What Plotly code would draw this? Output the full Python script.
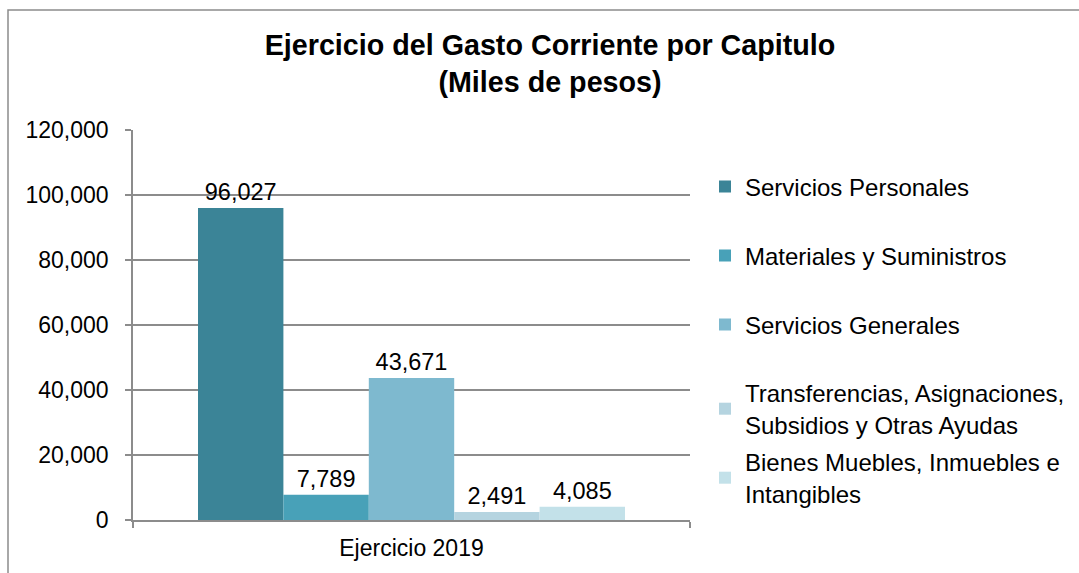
import plotly.graph_objects as go

category = ["Ejercicio 2019"]
series_names = [
    "Servicios Personales",
    "Materiales y Suministros",
    "Servicios Generales",
    "Transferencias, Asignaciones,<br>Subsidios y Otras Ayudas",
    "Bienes Muebles, Inmuebles e<br>Intangibles",
]
series_values = [96027, 7789, 43671, 2491, 4085]
colors = ["#3B8497", "#48A1B8", "#7EB9CF", "#B5D4E0", "#C3E1E9"]
legend_ids = ["legend", "legend2", "legend3", "legend4", "legend5"]
legend_center_px = [187, 256, 325, 409, 478]

W, H = 1079, 573
FONT = "Liberation Sans, Arial, sans-serif"
GRID = "#8C8C8C"

fig = go.Figure()
for name, val, col, lid in zip(series_names, series_values, colors, legend_ids):
    fig.add_trace(go.Bar(
        x=category, y=[val], name=name, marker=dict(color=col, line=dict(width=0)),
        text=[f"{val:,}"], textposition="outside", cliponaxis=False,
        textfont=dict(size=23.5, color="#000000", family=FONT),
        legend=lid,
    ))

layout_legends = {}
for lid, py in zip(legend_ids, legend_center_px):
    layout_legends[lid] = dict(
        xref="container", yref="container",
        x=705 / W, y=1 - py / H, xanchor="left", yanchor="middle",
        font=dict(size=24, color="#000000", family=FONT),
        bgcolor="rgba(0,0,0,0)", borderwidth=0,
    )

fig.update_layout(
    width=W, height=H,
    margin=dict(l=133, r=389, t=130, b=53, autoexpand=False),
    paper_bgcolor="white", plot_bgcolor="white",
    font=dict(family=FONT, size=23, color="#000000"),
    title=dict(
        text="<b>Ejercicio del Gasto Corriente por Capitulo<br>(Miles de pesos)</b>",
        x=550 / W, xanchor="center", xref="container",
        y=1 - 55 / H, yanchor="middle", yref="container",
        font=dict(size=28.7, family=FONT, color="#000000"),
    ),
    barmode="group", bargap=0.2334, bargroupgap=0,
    showlegend=True,
    **layout_legends,
)

fig.update_yaxes(
    range=[0, 120000], dtick=20000, tickformat=",",
    showgrid=True, gridcolor=GRID, gridwidth=1.5,
    showline=True, linecolor=GRID, linewidth=1.5,
    ticks="outside", ticklen=6, tickcolor=GRID, tickwidth=1.5,
    ticklabelstandoff=12,
    tickfont=dict(size=23, color="#000000", family=FONT),
    zeroline=False, fixedrange=True,
)
fig.update_xaxes(
    showline=True, linecolor=GRID, linewidth=1.5,
    ticks="outside", ticklen=6, tickcolor=GRID, tickwidth=1.5,
    tickson="boundaries", ticklabelstandoff=7,
    tickfont=dict(size=23, color="#000000", family=FONT),
    showgrid=False, fixedrange=True,
)

# outer chart border
fig.add_shape(
    type="rect", xref="paper", yref="paper",
    x0=(8 - 133) / 557, x1=(1090 - 133) / 557,
    y0=(520 - 590) / 390, y1=(520 - 10) / 390,
    line=dict(color="#8C8C8C", width=1.5), fillcolor="rgba(0,0,0,0)", layer="below",
)

fig.write_html(
    "out.html",
    config={"displayModeBar": False},
    post_script="document.body.style.margin='0';document.body.style.overflow='hidden';",
)
